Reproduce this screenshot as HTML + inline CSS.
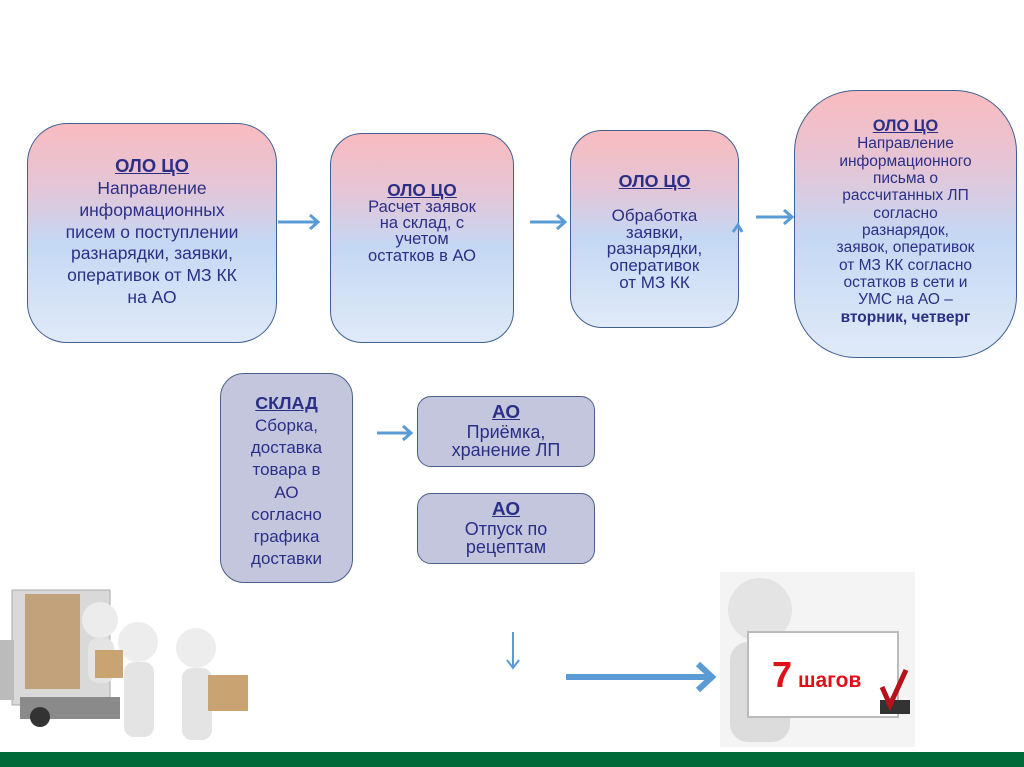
<!DOCTYPE html>
<html><head><meta charset="utf-8"><style>
body{margin:0;width:1024px;height:767px;background:#fff;position:relative;overflow:hidden;font-family:"Liberation Sans",sans-serif;color:#2b2f86}
.b{position:absolute;box-sizing:border-box;border:1.5px solid #3f6190;background:linear-gradient(#f9bbbf 0%,#e3c6d8 30%,#c4d8f4 55%,#e0eaf8 100%);display:flex;flex-direction:column;align-items:center;justify-content:center;text-align:center;line-height:1.05}
.g{background:#c4c6de;border-color:#4a6088}
u{font-weight:bold;font-size:1.05em}
</style></head><body>
<div class="b" style="left:27px;top:123px;width:250px;height:220px;border-radius:40px;font-size:17.5px;line-height:1.25;padding-bottom:2px"><u>ОЛО ЦО</u>Направление<br>информационных<br>писем о поступлении<br>разнарядки, заявки,<br>оперативок от МЗ КК<br>на АО</div>
<div class="b" style="left:330px;top:133px;width:184px;height:210px;border-radius:32px;font-size:16.5px;line-height:0.98;padding-bottom:30px"><u>ОЛО ЦО</u>Расчет заявок<br>на склад, с<br>учетом<br>остатков в АО</div>
<div class="b" style="left:570px;top:130px;width:169px;height:198px;border-radius:32px;font-size:17px;line-height:0.98;padding-top:6px"><u>ОЛО ЦО</u><div style="height:18px"></div>Обработка<br>заявки,<br>разнарядки,<br>оперативок<br>от МЗ КК</div>
<div class="b" style="left:794px;top:90px;width:223px;height:268px;border-radius:62px;font-size:15.5px;line-height:1.12;justify-content:flex-start;padding-top:26px"><u>ОЛО ЦО</u>Направление<br>информационного<br>письма о<br>рассчитанных ЛП<br>согласно<br>разнарядок,<br>заявок, оперативок<br>от МЗ КК согласно<br>остатков в сети и<br>УМС на АО –<br><b>вторник, четверг</b></div>
<div class="b g" style="left:220px;top:373px;width:133px;height:210px;border-radius:24px;font-size:17px;line-height:1.3;padding-top:6px"><u>СКЛАД</u>Сборка,<br>доставка<br>товара в<br>АО<br>согласно<br>графика<br>доставки</div>
<div class="b g" style="left:417px;top:396px;width:178px;height:71px;border-radius:14px;font-size:18px;line-height:1.05"><u>АО</u>Приёмка,<br>хранение ЛП</div>
<div class="b g" style="left:417px;top:493px;width:178px;height:71px;border-radius:14px;font-size:18px;line-height:1.05"><u>АО</u>Отпуск по<br>рецептам</div>
<svg width="1024" height="767" style="position:absolute;left:0;top:0" fill="none" stroke="#5b9bd5" stroke-width="3">
<path d="M278 222H318M310 215l8 7-8 7"/>
<path d="M530 222H565M557 215l8 7-8 7"/>
<path d="M756 217H792M784 210l8 7-8 7"/>
<path d="M733 232l5-7 4 7"/>
<path d="M377 433H411M403 426l8 7-8 7"/>
<path d="M513 632V668M507 660l6 8 6-8" stroke-width="2"/>
<path d="M566 677H712M698 664l14 13-14 13" stroke-width="6"/>
</svg>
<svg width="260" height="170" style="position:absolute;left:0;top:580px">
<rect x="12" y="10" width="98" height="115" fill="#d9d9d9" stroke="#aaa"/>
<rect x="25" y="14" width="55" height="95" fill="#c2a27a"/>
<rect x="0" y="60" width="14" height="60" fill="#bbb"/>
<rect x="20" y="117" width="100" height="22" fill="#8a8a8a"/>
<circle cx="40" cy="137" r="10" fill="#333"/>
<circle cx="100" cy="40" r="18" fill="#ececec"/>
<rect x="88" y="58" width="26" height="45" rx="10" fill="#e4e4e4"/>
<circle cx="138" cy="62" r="20" fill="#ededed"/>
<rect x="124" y="82" width="30" height="75" rx="10" fill="#e4e4e4"/>
<circle cx="196" cy="68" r="20" fill="#ededed"/>
<rect x="182" y="88" width="30" height="72" rx="10" fill="#e4e4e4"/>
<rect x="95" y="70" width="28" height="28" fill="#c9a472"/>
<rect x="208" y="95" width="40" height="36" fill="#c9a472"/>
</svg>
<svg width="200" height="175" style="position:absolute;left:720px;top:572px">
<rect x="0" y="0" width="195" height="175" fill="#f4f4f4"/>
<circle cx="40" cy="38" r="32" fill="#e4e4e4"/>
<rect x="10" y="70" width="60" height="100" rx="18" fill="#dcdcdc"/>
<rect x="28" y="60" width="150" height="85" fill="#fff" stroke="#bbb" stroke-width="2"/>
<text x="52" y="115" fill="#e0101a" font-weight="bold" font-size="36" font-family="Liberation Sans">7</text>
<text x="78" y="115" fill="#e0101a" font-weight="bold" font-size="21" font-family="Liberation Sans">шагов</text>
<rect x="160" y="128" width="30" height="14" fill="#333"/>
<path d="M162 115l8 18 16-35" stroke="#b5121b" stroke-width="5" fill="none"/>
</svg>
<div style="position:absolute;left:0;top:752px;width:1024px;height:15px;background:#006a38"></div>
</body></html>
